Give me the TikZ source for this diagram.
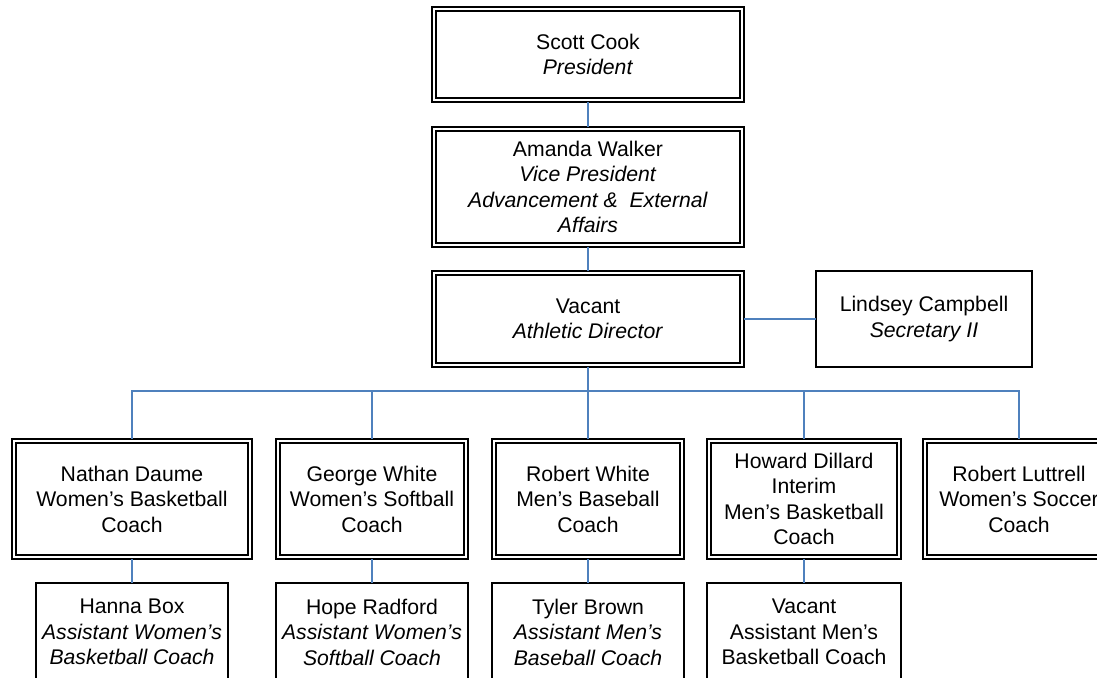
\documentclass[tikz,border=0pt]{standalone}
\usepackage{fontspec}
\setmainfont{Liberation Sans}
\begin{document}
\begin{tikzpicture}[x=1pt,y=-1pt,
  box/.style={draw, line width=1.8pt, outer sep=0pt, inner sep=0pt, align=center,
    font=\fontsize{21.2}{25.5}\selectfont},
  dbox/.style={box, line width=2.6pt},
  conn/.style={draw=linkblue, line width=1.7pt}]
\definecolor{linkblue}{HTML}{4F81BD}
\useasboundingbox (0,0) rectangle (1097,677);
% top levels
\node[dbox, minimum width=312pt, minimum height=95pt] (pres) at (588,54.5) {Scott Cook\\\textit{President}};
\node[dbox, minimum width=312pt, minimum height=120pt] (vp) at (588,187) {Amanda Walker\\\textit{Vice President}\\\textit{Advancement \&~ External}\\\textit{Affairs}};
\node[dbox, minimum width=312pt, minimum height=96pt] (ad) at (588,319) {Vacant\\\textit{Athletic Director}};
\node[box, minimum width=216pt, minimum height=96pt] (sec) at (924,319) {Lindsey Campbell\\\textit{Secretary II}};
% coaches
\node[dbox, minimum width=240pt, minimum height=120pt] (c1) at (132,499) {Nathan Daume\\Women’s Basketball\\Coach};
\node[dbox, minimum width=192pt, minimum height=120pt] (c2) at (372,499) {George White\\Women’s Softball\\Coach};
\node[dbox, minimum width=192pt, minimum height=120pt] (c3) at (588,499) {Robert White\\Men’s Baseball\\Coach};
\node[dbox, minimum width=194pt, minimum height=120pt] (c4) at (804,499) {Howard Dillard\\Interim\\Men’s Basketball\\Coach};
\node[dbox, minimum width=192pt, minimum height=120pt] (c5) at (1019,499) {Robert Luttrell\\Women’s Soccer\\Coach};
% assistants
\node[box, minimum width=192pt, minimum height=98pt] (a1) at (132,632) {Hanna Box\\\textit{Assistant Women’s}\\\textit{Basketball Coach}};
\node[box, minimum width=192pt, minimum height=98pt] (a2) at (372,632) {Hope Radford\\\textit{Assistant Women’s}\\\textit{Softball Coach}};
\node[box, minimum width=192pt, minimum height=98pt] (a3) at (588,632) {Tyler Brown\\\textit{Assistant Men’s}\\\textit{Baseball Coach}};
\node[box, minimum width=194pt, minimum height=98pt] (a4) at (804,632) {Vacant\\Assistant Men’s\\Basketball Coach};
% inner lines of double boxes
\foreach \n in {pres,vp,ad,c1,c2,c3,c4,c5}
  \draw[line width=1.3pt] ([shift={(4pt,-4pt)}]\n.north west) rectangle ([shift={(-4pt,4pt)}]\n.south east);
% connectors
\coordinate (bus) at (0,391);
\draw[conn] (pres.south) -- (vp.north);
\draw[conn] (vp.south) -- (ad.north);
\draw[conn] (ad.east) -- (sec.west);
\draw[conn] (ad.south) -- (ad.south |- bus);
\draw[conn] (c1.north) |- (c5.north |- bus) -- (c5.north);
\foreach \n in {c2,c3,c4}
  \draw[conn] (\n.north) -- (\n.north |- bus);
\foreach \i in {1,2,3,4}
  \draw[conn] (c\i.south) -- (a\i.north);
\end{tikzpicture}
\end{document}
